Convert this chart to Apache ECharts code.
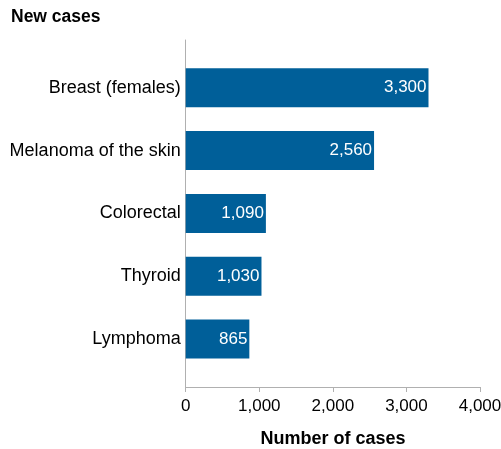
<!DOCTYPE html>
<html><head><meta charset="utf-8">
<script src="https://cdn.jsdelivr.net/npm/echarts@6/dist/echarts.min.js"></script>
<style>html,body{margin:0;padding:0;background:#fff}#c{width:501px;height:449px}</style>
</head><body><div id="c"></div>
<script>
const categories = ['Breast (females)', 'Melanoma of the skin', 'Colorectal', 'Thyroid', 'Lymphoma'];
const newCases = [3300, 2560, 1090, 1030, 865];
const xTicks = [0, 1000, 2000, 3000, 4000];
const titleText = 'New cases';
const xAxisName = 'Number of cases';

const FONT = 'Liberation Sans, Arial, sans-serif';
const fmt = v => v.toLocaleString('en-US');
const chart = echarts.init(document.getElementById('c'), null, {renderer: 'canvas'});
chart.setOption({
  animation: false,
  textStyle: {fontFamily: FONT},
  grid: [
    {left: 185.7, right: 21, top: 56.4, height: 314, outerBoundsMode: 'none', containLabel: false},
    {left: 185.7, right: 21, top: 40, bottom: 62, outerBoundsMode: 'none', containLabel: false}
  ],
  xAxis: [
    {gridIndex: 0, type: 'value', min: xTicks[0], max: xTicks[xTicks.length-1], interval: 1000, show: false},
    {gridIndex: 1, type: 'value', min: xTicks[0], max: xTicks[xTicks.length-1], interval: 1000,
     axisLine: {show: true, lineStyle: {color: '#b0b0b0', width: 1}},
     axisTick: {show: true, length: 5, lineStyle: {color: '#b0b0b0'}},
     splitLine: {show: false},
     axisLabel: {margin: 11, fontSize: 17, color: '#000', fontFamily: FONT, formatter: v => fmt(v), showMaxLabel: true, hideOverlap: false}}
  ],
  yAxis: [
    {gridIndex: 0, type: 'category', data: categories, inverse: true,
     axisLine: {show: false}, axisTick: {show: false},
     axisLabel: {margin: 5, fontSize: 18, color: '#000', fontFamily: FONT}},
    {gridIndex: 1, type: 'value', min: 0, max: 1,
     axisLine: {show: true, lineStyle: {color: '#b0b0b0', width: 1}},
     axisTick: {show: false}, axisLabel: {show: false}, splitLine: {show: false}}
  ],
  series: [{
    type: 'bar', xAxisIndex: 0, yAxisIndex: 0, data: newCases,
    barWidth: 39,
    itemStyle: {color: '#005f99'},
    label: {show: true, position: 'insideRight', distance: 2, color: '#fff', fontSize: 17, fontFamily: FONT,
            formatter: p => fmt(p.value)}
  }],
  graphic: [
    {type: 'text', left: 11, top: 8, style: {text: titleText, font: 'bold 17.5px ' + FONT, fill: '#000'}},
    {type: 'text', x: 333, y: 439, style: {text: xAxisName, font: 'bold 18px ' + FONT, fill: '#000', textAlign: 'center', textVerticalAlign: 'middle'}}
  ]
});
</script></body></html>
